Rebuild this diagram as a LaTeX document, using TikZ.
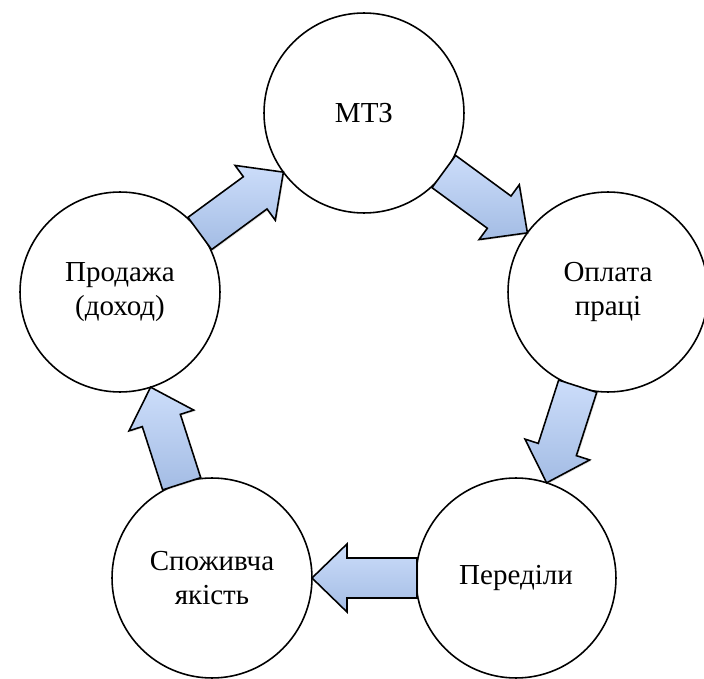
\documentclass[tikz,border=0pt]{standalone}
\usepackage{fontspec}
\setmainfont{Liberation Serif}
\usetikzlibrary{calc, shadows}
\definecolor{arrowtop}{RGB}{204,221,250}
\definecolor{arrowbot}{RGB}{163,188,228}
\tikzset{
  stage/.style={draw, line width=0.9pt, circle, minimum size=4cm, inner sep=0pt, outer sep=0pt,
    fill=white, align=center, font=\fontsize{16.5}{19.5}\selectfont},
  flow/.style={draw, line width=0.9pt, line join=miter, top color=arrowtop, bottom color=arrowbot,
    drop shadow={opacity=0.25, shadow xshift=0.7pt, shadow yshift=-0.7pt}}
}
% block arrow from the rim of #1 to the rim of #2
\newcommand{\flowarrow}[2]{%
  \coordinate (t) at ($(#1.center)!1.98cm!(#2.center)$);
  \coordinate (p) at ($(#2.center)!2cm!(#1.center)$);
  \coordinate (h) at ($(p)!0.7cm!(t)$);
  \draw[flow] ($(t)!0.4cm!90:(p)$) -- ($(h)!0.4cm!-90:(t)$) -- ($(h)!0.68cm!-90:(t)$)
    -- (p) -- ($(h)!0.68cm!90:(t)$) -- ($(h)!0.4cm!90:(t)$) -- ($(t)!0.4cm!-90:(p)$) -- cycle;
}

\begin{document}
\begin{tikzpicture}[x=0.02cm, y=-0.02cm]
    \useasboundingbox (0,0) rectangle (704,679);
    \node[stage] (mtz) at (364,113) {МТЗ};
    \node[stage] (pay) at (608,292) {Оплата\\праці};
    \node[stage] (redist) at (516,578) {Переділи};
    \node[stage] (quality) at (212,578) {Споживча\\якість};
    \node[stage] (sale) at (120,292) {Продажа\\(доход)};
    % arrows round the cycle
    \flowarrow{sale}{mtz}
    \flowarrow{mtz}{pay}
    \flowarrow{pay}{redist}
    \flowarrow{redist}{quality}
    \flowarrow{quality}{sale}
\end{tikzpicture}
\end{document}
